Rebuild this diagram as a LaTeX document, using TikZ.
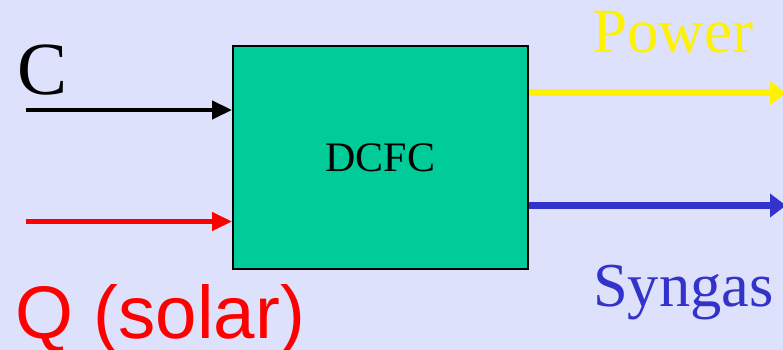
\documentclass[tikz,border=0pt]{standalone}
\usepackage{fontspec}
\setmainfont{Liberation Serif}
\newfontfamily\labelsans{Liberation Sans}
\usetikzlibrary{arrows.meta}
\definecolor{bgblue}{HTML}{DDE1FB}
\definecolor{cellgreen}{HTML}{00CC99}
\definecolor{syngasblue}{HTML}{3333CC}
\begin{document}
\begin{tikzpicture}[x=1pt,y=1pt,
  flowin/.style={line width=4.5pt,-{Triangle[length=20pt,width=18pt]}},
  flowout/.style={line width=7pt,-{Triangle[length=16pt,width=23pt]}},
  lbl/.style={inner sep=0pt,anchor=base west}]
  % canvas
  \fill[bgblue] (0,0) rectangle (783,350);
  \useasboundingbox (0,0) rectangle (783,350);
  % fuel cell block
  \node[draw=black,line width=2pt,fill=cellgreen,minimum width=295pt,minimum height=223pt,inner sep=0pt]
    (box) at (380.5,192.5) {\fontsize{42}{46}\selectfont DCFC};
  % stream end points
  \coordinate (cin) at (26,240);
  \coordinate (qin) at (26,128.5);
  \coordinate (pout) at (786,257);
  \coordinate (sout) at (786,144.5);
  % inputs
  \draw[flowin,black] (cin) -- (cin -| box.west);
  \draw[flowin,red] (qin) -- (qin -| box.west);
  % outputs
  \draw[flowout,yellow] (pout -| box.east) -- (pout);
  \draw[flowout,syngasblue] (sout -| box.east) -- (sout);
  % labels
  \node[lbl] (clbl) at (17,255) {\fontsize{75}{80}\selectfont C};
  \node[lbl,text=red] (qlbl) at (15,11) {\labelsans\fontsize{74.5}{79}\selectfont Q (solar)};
  \node[lbl,text=yellow] (plbl) at (592,297) {\fontsize{63}{68}\selectfont Power};
  \node[lbl,text=syngasblue] (slbl) at (593,43.5) {\fontsize{62.5}{67}\selectfont Syngas};
\end{tikzpicture}
\end{document}
